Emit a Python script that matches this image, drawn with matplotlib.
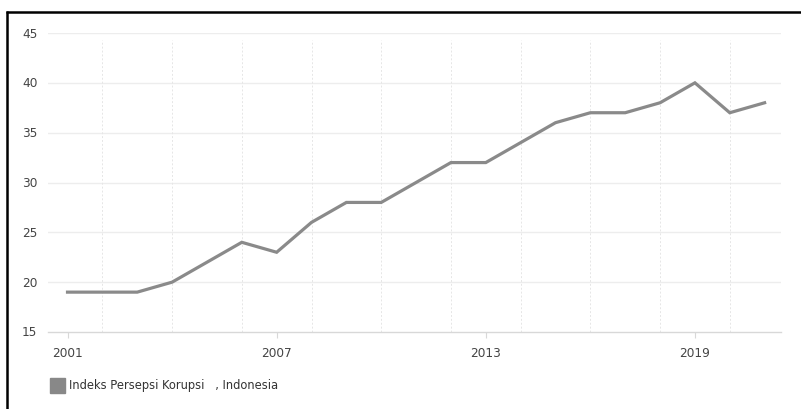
import numpy as np
import matplotlib.pyplot as plt
from matplotlib.lines import Line2D
from matplotlib.patches import Rectangle
from matplotlib.transforms import blended_transform_factory

years = np.arange(2001, 2022)
ipk = [19, 19, 19, 20, 22, 24, 23, 26, 28, 28, 30, 32, 32, 34, 36, 37, 37, 38, 40, 37, 38]
xticks = [2001, 2007, 2013, 2019]
yticks = [15, 20, 25, 30, 35, 40, 45]
legend_label = "Indeks Persepsi Korupsi   , Indonesia"

W, H = 801, 410
fig = plt.figure(figsize=(W / 100, H / 100), dpi=100)
ax = fig.add_axes([48 / W, (H - 333) / H, (781 - 48) / W, (333 - 34) / H])

ax.set_xlim(2000.44, 2021.47)
ax.set_ylim(15, 45)

# grid
for y in yticks[1:]:
    ax.axhline(y, color='#ededed', lw=1, zorder=0)
for x in range(2002, 2021, 2):
    ax.plot([x, x], [15, 44.3], color='#e6e6e6', lw=0.7, ls=(0, (2, 2)), zorder=0)

ax.plot(years, ipk, color='#8a8a8a', lw=2.3, solid_joinstyle='miter', zorder=3)

for s in ['top', 'right', 'left']:
    ax.spines[s].set_visible(False)
ax.spines['bottom'].set_color('#d8d8d8')
ax.spines['bottom'].set_linewidth(1)

ax.set_xticks(xticks)
ax.tick_params(axis='x', length=4, color='#d8d8d8', labelsize=8.7,
               labelcolor='#444444', pad=6)
ax.set_yticks([])

# y labels, left aligned at a fixed pixel column
tr = blended_transform_factory(fig.transFigure, ax.transData)
for y in yticks:
    ax.text(22 / W, y, str(y), transform=tr, ha='left', va='center',
            fontsize=8.7, color='#444444')

# legend
fig.patches.append(Rectangle((50 / W, (H - 394) / H), 15 / W, 15 / H,
                             transform=fig.transFigure, color='#888888'))
fig.text(69 / W, (H - 386) / H, legend_label, fontsize=8.3, color='#333333',
         va='center', ha='left')

# frame lines (top and left)
fig.add_artist(Line2D([6 / W, 1], [(H - 12.5) / H] * 2, color='black', lw=1.8,
                      transform=fig.transFigure, solid_capstyle='butt'))
fig.add_artist(Line2D([7 / W] * 2, [0, (H - 12) / H], color='black', lw=1.8,
                      transform=fig.transFigure, solid_capstyle='butt'))

fig.savefig('out.png', dpi=100)
